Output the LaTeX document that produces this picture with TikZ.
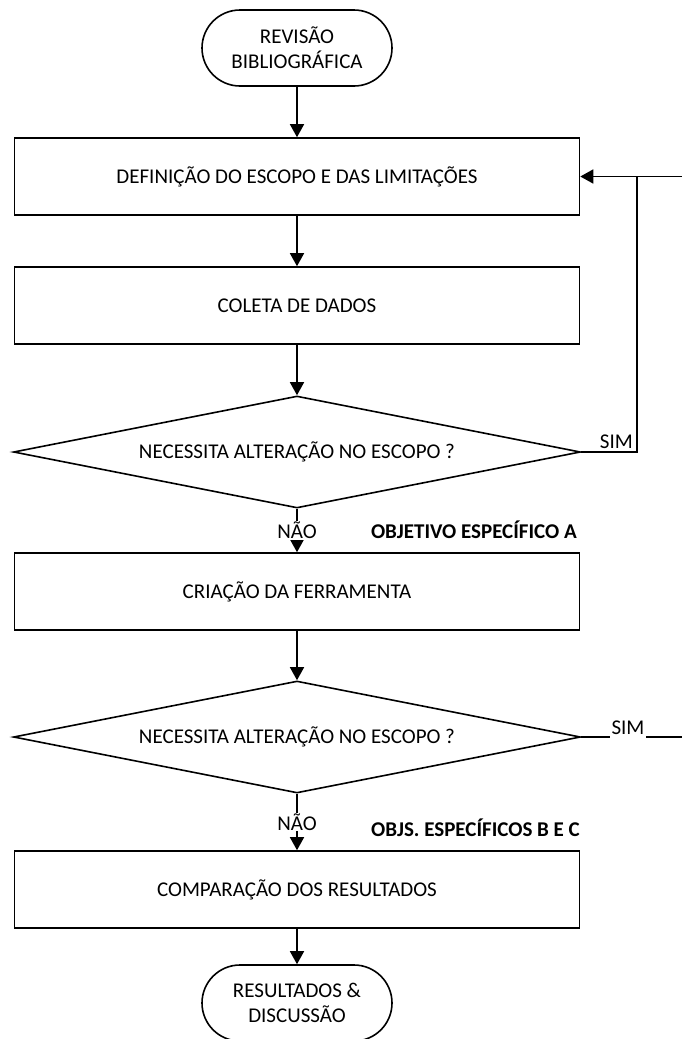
\documentclass[tikz,border=0pt]{standalone}
\usepackage{fontspec}
\setmainfont{Carlito}
\usetikzlibrary{shapes.geometric,arrows.meta}
\begin{document}
\begin{tikzpicture}[x=1pt,y=-1pt,
  txt/.style={font=\fontsize{21}{25}\selectfont},
  base/.style={txt, draw=black, line width=1.6pt, align=center, inner sep=0pt},
  term/.style={base, rounded corners=38pt, minimum width=190pt, minimum height=76pt},
  proc/.style={base, minimum width=565pt, minimum height=77pt},
  dec/.style={base, diamond, aspect=5.06, minimum width=567pt, minimum height=112pt},
  ln/.style={line width=1.6pt},
  arr/.style={ln, -{Triangle[length=13pt,width=14pt]}},
  lbl/.style={txt, inner sep=1pt},
  blbl/.style={font=\fontsize{21}{25}\selectfont\bfseries, inner sep=0pt}]
\useasboundingbox (0,0) rectangle (682,1039);
\clip (0,0) rectangle (682,1039);

\node[term] (t1) at (297,48) {REVISÃO\\BIBLIOGRÁFICA};
\node[proc] (p1) at (297,176.5) {DEFINIÇÃO DO ESCOPO E DAS LIMITAÇÕES};
\node[proc] (p2) at (297,305.5) {COLETA DE DADOS};
\node[dec] (d1) at (297,452) {NECESSITA ALTERAÇÃO NO ESCOPO ?};
\node[proc] (p3) at (297,591.5) {CRIAÇÃO DA FERRAMENTA};
\node[dec] (d2) at (297,737) {NECESSITA ALTERAÇÃO NO ESCOPO ?};
\node[proc] (p4) at (297,889.5) {COMPARAÇÃO DOS RESULTADOS};
\node[term] (t2) at (297,1003) {RESULTADOS \&\\DISCUSSÃO};

\draw[arr] (t1) -- (p1);
\draw[arr] (p1) -- (p2);
\draw[arr] (p2) -- (d1);
\draw[arr] (d1) -- node[lbl, fill=white]{NÃO} (p3);
\draw[arr] (p3) -- (d2);
\draw[arr] (d2) -- node[lbl, fill=white]{NÃO} (p4);
\draw[arr] (p4) -- (t2);

% feedback loop
\coordinate (j1) at (637,452);
\coordinate (j2) at (637,176.5);
\coordinate (e1) at (682,176.5);
\draw[ln] (d1.east) -- (j1) -- (j2);
\draw[arr] (e1) -- (p1.east);
\node[lbl, anchor=base east] (s1) at (634,448) {SIM};

% second SIM exit
\coordinate (e2) at (682,737);
\draw[ln] (d2.east) -- (e2);
\node[txt, fill=white, inner xsep=2pt, inner ysep=4pt, anchor=base] (s2) at (628,734) {SIM};

\node[blbl, anchor=base east] (oa) at (577,538) {OBJETIVO ESPECÍFICO A};
\node[blbl, anchor=base east] (ob) at (580,836) {OBJS. ESPECÍFICOS B E C};
\end{tikzpicture}
\end{document}
